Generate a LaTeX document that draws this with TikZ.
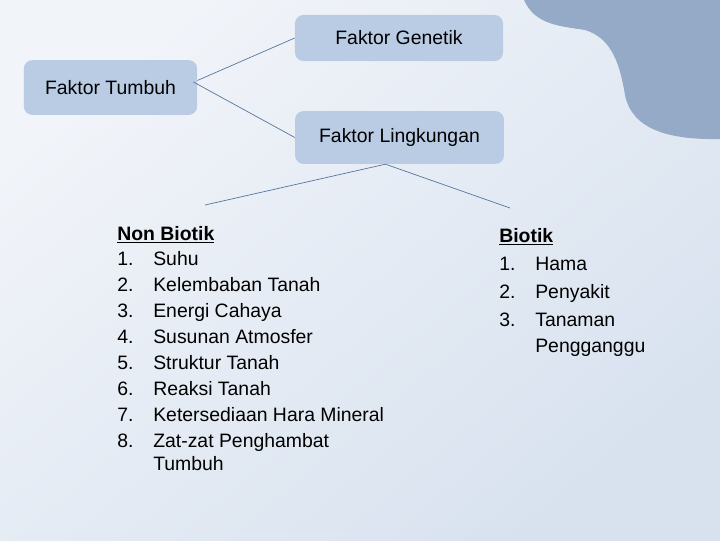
\documentclass[tikz,border=0pt]{standalone}
\usepackage{fontspec}
\setmainfont{Liberation Sans}
\definecolor{bglight}{HTML}{F1F4F9}
\definecolor{bgdark}{HTML}{D8E2EF}
\definecolor{boxfill}{HTML}{B9CCE4}
\definecolor{blobfill}{HTML}{94AAC7}
\definecolor{linkcol}{HTML}{56769E}
\tikzset{
    faktor/.style={fill=boxfill, rounded corners=6pt, inner sep=0pt, font=\fontsize{13.8}{16}\selectfont},
    link/.style={linkcol, line width=0.5pt},
    item/.style={inner sep=0pt, anchor=base west, font=\fontsize{13.8}{18}\selectfont}
}
\begin{document}
\begin{tikzpicture}[x=0.025cm, y=-0.025cm]
    % BACKGROUND
    \useasboundingbox (0,0) rectangle (720,540);
    \shade[top color=bglight, bottom color=bgdark, shading angle=40] (0,0) rectangle (720,540);
    \fill[blobfill] (524,0) .. controls (535,25) and (560,26) .. (585,30)
        .. controls (612,38) and (620,65) .. (625,95)
        .. controls (632,130) and (670,140) .. (720,139) -- (720,0) -- cycle;

    % BOXES
    \node[faktor, minimum width=5.2cm, minimum height=1.15cm] (genetik) at (399,38) {Faktor Genetik};
    \node[faktor, minimum width=4.33cm, minimum height=1.37cm] (tumbuh) at (110.5,87.5) {Faktor Tumbuh};
    \node[faktor, minimum width=5.22cm, minimum height=1.32cm] (lingkungan) at (399.5,137.5) {Faktor Lingkungan};

    % LINKS
    \coordinate (nonbiotiktop) at (205,205);
    \coordinate (biotiktop) at (510,208);
    \draw[link] ([yshift=5pt]tumbuh.east) -- (genetik.west);
    \draw[link] ([xshift=-3pt,yshift=4pt]tumbuh.east) -- (lingkungan.west);
    \draw[link] ([xshift=-10pt]lingkungan.south) -- (nonbiotiktop);
    \draw[link] ([xshift=-10pt]lingkungan.south) -- (biotiktop);

    % NON BIOTIK
    \node[item] (nonbiotik) at (117,240) {\underline{\textbf{Non Biotik}}};
    \foreach \txt [count=\i] in {Suhu, Kelembaban Tanah, Energi Cahaya, Susunan Atmosfer,
        Struktur Tanah, Reaksi Tanah, Ketersediaan Hara Mineral, Zat-zat Penghambat} {
    \node[item] (nbnum\i) at (117,240+25.9*\i) {\i.};
    \node[item] (nbtxt\i) at (153,240+25.9*\i) {\txt};
    }
    \node[item] (nbtxt9) at (153,470) {Tumbuh};

    % BIOTIK
    \node[item] (biotik) at (499,242) {\underline{\textbf{Biotik}}};
    \foreach \txt [count=\i] in {Hama, Penyakit, Tanaman} {
    \node[item] (bnum\i) at (499,243+27.8*\i) {\i.};
    \node[item] (btxt\i) at (535,243+27.8*\i) {\txt};
    }
    \node[item] (btxt4) at (535,352) {Pengganggu};

\end{tikzpicture}
\end{document}
